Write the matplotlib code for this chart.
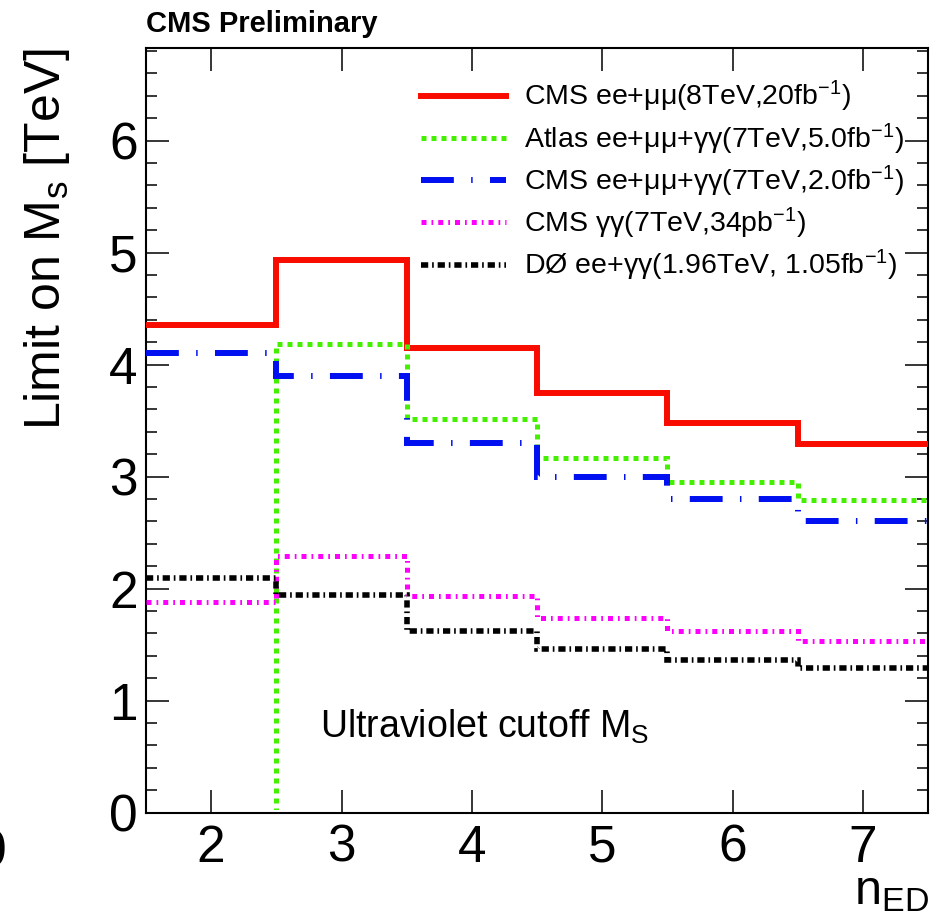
import matplotlib
matplotlib.use("Agg")
from matplotlib import pyplot as plt
from matplotlib.lines import Line2D
from matplotlib.patches import Rectangle
from matplotlib.ticker import MultipleLocator
import numpy as np

plt.rcParams['font.family'] = ['Liberation Sans', 'DejaVu Sans']
plt.rcParams['mathtext.fontset'] = 'custom'
plt.rcParams['mathtext.rm'] = 'Liberation Sans'
plt.rcParams['mathtext.it'] = 'Liberation Sans:italic'
plt.rcParams['mathtext.bf'] = 'Liberation Sans:bold'

# number of extra dimensions (bin centres) and bin edges
n_ed = [2, 3, 4, 5, 6, 7]
edges = [1.5, 2.5, 3.5, 4.5, 5.5, 6.5, 7.5]

# lower limits on M_S [TeV]
cms_8tev_ll = [4.35, 4.93, 4.15, 3.75, 3.48, 3.29]
atlas_7tev = [0.0, 4.18, 3.51, 3.17, 2.95, 2.79]
cms_7tev_all = [4.10, 3.90, 3.30, 3.00, 2.80, 2.60]
cms_7tev_gg = [1.88, 2.29, 1.93, 1.74, 1.62, 1.53]
d0_ee_gg = [2.09, 1.94, 1.62, 1.46, 1.36, 1.29]

labels = [
    r'CMS ee+μμ(8TeV,20fb$^{\mathrm{-1}}$)',
    r'Atlas ee+μμ+γγ(7TeV,5.0fb$^{\mathrm{-1}}$)',
    r'CMS ee+μμ+γγ(7TeV,2.0fb$^{\mathrm{-1}}$)',
    r'CMS γγ(7TeV,34pb$^{\mathrm{-1}}$)',
    r'DØ ee+γγ(1.96TeV, 1.05fb$^{\mathrm{-1}}$)',
]

series = [cms_8tev_ll, atlas_7tev, cms_7tev_all, cms_7tev_gg, d0_ee_gg]
colors = ['#f80c00', '#44f000', '#0010f0', '#ff00ff', '#000000']
widths = [4.3, 3.6, 4.3, 3.6, 4.0]
styles = [
    'solid',
    (0, (1.0, 1.0)),
    (0, (5.5, 2.9, 0.25, 2.9)),
    (0, (1.0, 1.0, 0.35, 1.0)),
    (0, (1.3, 0.7, 0.3, 0.7)),
]

fig = plt.figure(figsize=(9.46, 9.19), dpi=100)
ax = fig.add_axes([146/946, 1-812.5/919, 782/946, 764.8/919])

ax.set_xlim(1.5, 7.5)
ax.set_ylim(0, 6.83)

# bins at zero sit under the frame, like in ROOT
clip = Rectangle((1.5, 0.02), 6.0, 7.0, transform=ax.transData)

handles = []
for vals, c, lw, ls, lab in zip(series, colors, widths, styles, labels):
    sp = ax.stairs(vals, edges, baseline=None, color=c, linewidth=lw,
                   linestyle=ls, zorder=3)
    sp.set_clip_path(clip)
    handles.append(Line2D([], [], color=c, linewidth=lw, linestyle=ls, label=lab))

ax.xaxis.set_major_locator(MultipleLocator(1))
ax.yaxis.set_major_locator(MultipleLocator(1))
ax.yaxis.set_minor_locator(MultipleLocator(0.2))
ax.tick_params(which='both', direction='in', top=True, right=True, width=1.1)
ax.tick_params(which='major', length=16.5, labelsize=37)
ax.tick_params(which='minor', length=8)
ax.tick_params(axis='x', pad=8)
ax.tick_params(axis='y', pad=6)
for s in ax.spines.values():
    s.set_linewidth(1.5)

leg = ax.legend(handles=handles, loc='upper left', frameon=False,
                bbox_to_anchor=(421/946, 1-79/919), bbox_transform=fig.transFigure,
                fontsize=20.5, handlelength=3.0, handletextpad=0.6,
                labelspacing=0.25, borderpad=0, borderaxespad=0)

fig.text(146/946, 1-32/919, 'CMS Preliminary', fontsize=21, fontweight='bold',
         va='baseline', ha='left')
fig.text(320/946, 1-738/919, r'Ultraviolet cutoff M$_{\mathrm{S}}$', fontsize=27,
         va='baseline', ha='left')
fig.text(47/946, 1-48/919, r'Limit on M$_{\mathrm{s}}$ [TeV]', fontsize=36,
         rotation=90, ha='center', va='top')
fig.text(929/946, 1-904/919, r'n$_{\mathrm{ED}}$', fontsize=35,
         ha='right', va='baseline')
fig.text(7/946, 1-853/919, '0', fontsize=37, ha='right', va='center')

fig.savefig('out.png', dpi=100)
